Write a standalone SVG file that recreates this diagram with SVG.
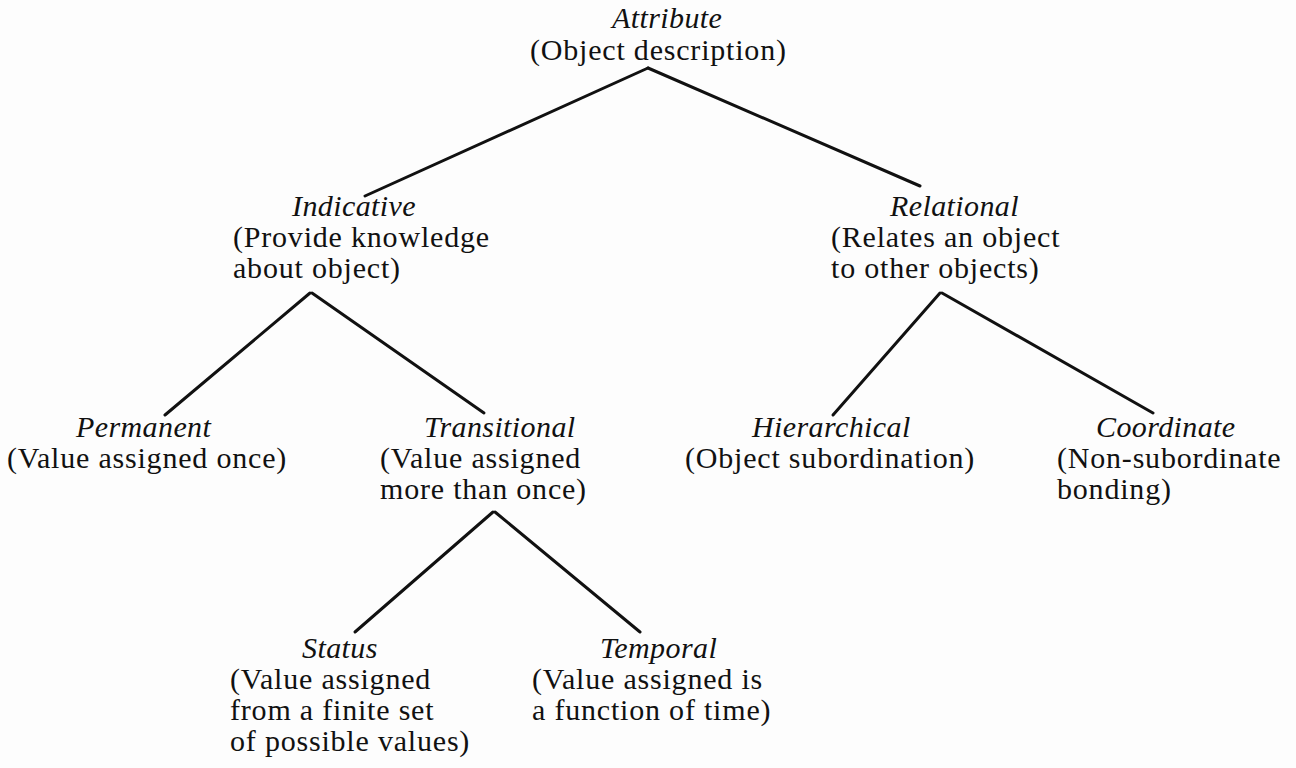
<svg xmlns="http://www.w3.org/2000/svg" width="1296" height="768" viewBox="0 0 1296 768">
<style>
text{font-family:"Liberation Serif","Times New Roman",serif;font-size:30px;letter-spacing:0.8px;fill:#111}
.t{font-style:italic;letter-spacing:0.4px}
.c line{stroke:#111;stroke-width:3;stroke-linecap:round}
</style>
<rect width="1296" height="768" fill="#fdfdfd"/>
<g class="c" id="connectors">
<line x1="648" y1="68" x2="365" y2="196"/>
<line x1="648" y1="68" x2="920" y2="186"/>
<line x1="310" y1="293" x2="165" y2="415"/>
<line x1="312" y1="293" x2="484" y2="413"/>
<line x1="940" y1="293" x2="833" y2="415"/>
<line x1="942" y1="293" x2="1153" y2="413"/>
<line x1="493" y1="512" x2="355" y2="632"/>
<line x1="495" y1="512" x2="640" y2="632"/>
</g>
<g id="attribute"><text class="t" x="612" y="28">Attribute</text><text x="530" y="60">(Object description)</text></g>
<g id="indicative"><text class="t" x="292" y="216">Indicative</text><text x="233" y="247">(Provide knowledge</text><text x="233" y="278">about object)</text></g>
<g id="relational"><text class="t" x="890" y="216">Relational</text><text x="831" y="247">(Relates an object</text><text x="831" y="278">to other objects)</text></g>
<g id="permanent"><text class="t" x="76" y="437">Permanent</text><text x="7" y="468">(Value assigned once)</text></g>
<g id="transitional"><text class="t" x="424" y="437">Transitional</text><text x="380" y="468">(Value assigned</text><text x="380" y="499">more than once)</text></g>
<g id="hierarchical"><text class="t" x="752" y="437">Hierarchical</text><text x="685" y="468">(Object subordination)</text></g>
<g id="coordinate"><text class="t" x="1096" y="437">Coordinate</text><text x="1057" y="468">(Non-subordinate</text><text x="1057" y="499">bonding)</text></g>
<g id="status"><text class="t" x="302" y="658">Status</text><text x="230" y="689">(Value assigned</text><text x="230" y="720">from a finite set</text><text x="230" y="751">of possible values)</text></g>
<g id="temporal"><text class="t" x="600" y="658">Temporal</text><text x="532" y="689">(Value assigned is</text><text x="532" y="720">a function of time)</text></g>
</svg>
